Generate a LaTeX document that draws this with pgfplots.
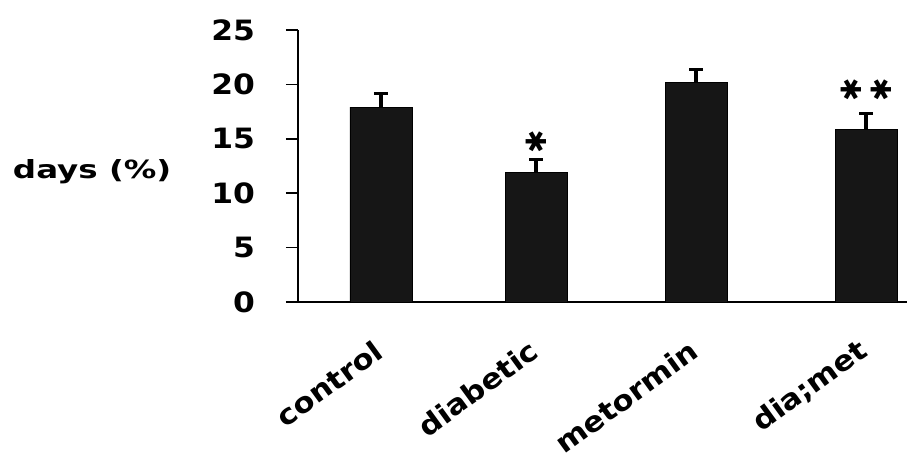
\documentclass[border=0pt]{standalone}
\usepackage{fontspec}
\setmainfont{DejaVu Sans}
\newfontfamily\tickfont{DejaVu Sans}[FakeStretch=1.12]
\newfontfamily\xfont{DejaVu Sans}[FakeStretch=1.1]
\newfontfamily\labfont{DejaVu Sans}[FakeStretch=1.3]
\newfontfamily\symfont{DejaVu Sans}
\usepackage{pgfplots}
\usepackage{pgfplotstable}
\pgfplotsset{compat=1.18}
\definecolor{barfill}{RGB}{22,22,22}

\pgfplotstableread{
x y err
0 17.9 1.3
0.96 11.9 1.2
1.95 20.2 1.2
3 15.9 1.4
}\data

\begin{document}
\begin{tikzpicture}
\begin{axis}[
  at={(0,0)}, anchor=south west,
  scale only axis, width=304.5pt, height=136pt,
  xmin=-0.513, xmax=3.253, ymin=0, ymax=25,
  axis x line=bottom, axis y line=left,
  axis line style={-},
  x axis line style={line width=1pt},
  y axis line style={line width=0.8pt},
  /pgf/number format/assume math mode=true,
  ytick={0,5,10,15,20,25},
  yticklabel style={font=\tickfont\bfseries\fontsize{14}{17}\selectfont, xshift=-12pt},
  tick align=outside, major tick length=6pt,
  y tick style={line width=0.8pt, black},
  x tick style={draw=none},
  xtick={0,0.96,1.95,3},
  xticklabels={control,diabetic,metormin,dia;met},
  xticklabel style={font=\xfont\bfseries\fontsize{14}{17}\selectfont, rotate=36, anchor=east, yshift=-13pt, xshift=-7pt},
  ylabel={days (\%)},
  ylabel style={rotate=-90, font=\labfont\bfseries\fontsize{12.5}{15}\selectfont, at={(axis description cs:-0.338,0.478)}, anchor=center},
  clip=false,
]
\addplot[ybar, bar width=0.383, fill=barfill, draw=black,
  error bars/.cd, y dir=plus, y explicit,
  error bar style={line width=1.8pt, black},
  error mark options={rotate=90, line width=1.5pt, mark size=3.5pt, black}]
  table[x=x, y=y, y error=err] {\data};
\draw[line width=1pt] (axis cs:-0.563,0) -- (axis cs:-0.513,0);
\node[font=\symfont\fontsize{14}{14}\selectfont, rotate=90] at (axis cs:0.96,14.7) {✱};
\node[font=\symfont\fontsize{14}{14}\selectfont, rotate=90] at (axis cs:2.907,19.5) {✱};
\node[font=\symfont\fontsize{14}{14}\selectfont, rotate=90] at (axis cs:3.093,19.5) {✱};
\end{axis}
\pgfresetboundingbox
\useasboundingbox (-149pt,-82pt) rectangle (304.5pt,151pt);
\end{tikzpicture}
\end{document}
